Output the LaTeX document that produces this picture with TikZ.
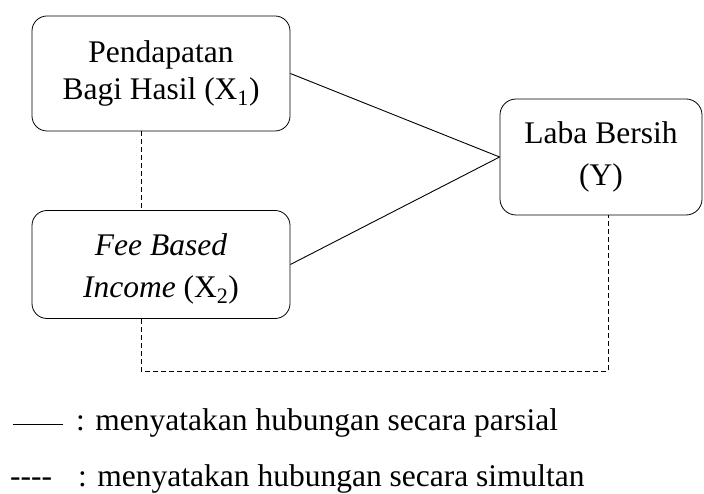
\documentclass[tikz,border=0pt]{standalone}
\usepackage{fontspec}
\setmainfont{Liberation Serif}
\begin{document}
\begin{tikzpicture}[x=1pt,y=-1pt,
  varbox/.style={draw, line width=0.8pt, rounded corners=15pt, align=center, inner sep=0pt},
  partial/.style={line width=0.9pt},
  simul/.style={line width=0.9pt, dash pattern=on 5pt off 3pt},
  legtext/.style={anchor=base west, inner sep=0pt, font=\fontsize{31.5}{37}\selectfont}]
\useasboundingbox (0,0) rectangle (704,494);
\node[varbox, minimum width=258pt, minimum height=115pt, font=\fontsize{31.5}{37}\selectfont] (x1) at (161,73.5)
  {Pendapatan\\Bagi Hasil (X\textsubscript{1})};
\node[varbox, minimum width=258pt, minimum height=108pt, font=\fontsize{31.5}{42}\selectfont] (x2) at (161,264.5)
  {\rule{0pt}{31pt}\textit{Fee Based}\\\textit{Income} (X\textsubscript{2})};
\node[varbox, rounded corners=16pt, minimum width=202pt, minimum height=116pt, font=\fontsize{31.5}{42}\selectfont] (y) at (601,157)
  {Laba Bersih\\(Y)};
% partial relations
\draw[partial] (x1.east) -- (y.west);
\draw[partial] (x2.east) -- (y.west);
% simultaneous relations
\coordinate (c1) at (141,371);
\coordinate (c2) at (608,371);
\draw[simul] (x1.south -| c1) -- (x2.north -| c1);
\draw[simul] (x2.south -| c1) -- (c1) -- (c2) -- (y.south -| c2);
% legend
\coordinate (l1a) at (13,424);
\coordinate (l1b) at (63,424);
\draw[partial] (l1a) -- (l1b);
\node[legtext] (leg1) at (76,430) {: menyatakan hubungan secara parsial};
\node[legtext] (leg2d) at (10,486) {-\kern0pt-\kern0pt-\kern0pt-};
\node[legtext] (leg2) at (78,486) {: menyatakan hubungan secara simultan};
\end{tikzpicture}
\end{document}
